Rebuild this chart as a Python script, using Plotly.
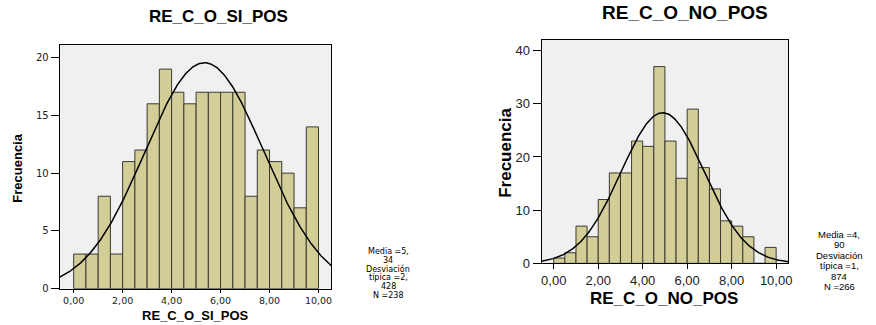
import numpy as np
import plotly.graph_objects as go

# ---------------- data ----------------
bin_start = [0.0, 0.5, 1.0, 1.5, 2.0, 2.5, 3.0, 3.5, 4.0, 4.5,
             5.0, 5.5, 6.0, 6.5, 7.0, 7.5, 8.0, 8.5, 9.0, 9.5]
bin_width = 0.5
counts_si = [3, 3, 8, 3, 11, 12, 16, 19, 17, 16,
             17, 17, 17, 17, 8, 12, 11, 10, 7, 14]
counts_no = [1, 2, 7, 5, 12, 17, 17, 23, 22, 37,
             23, 16, 29, 18, 14, 8, 7, 5, 0, 3]
mean_si, sd_si, n_si = 5.34, 2.428, 238
mean_no, sd_no, n_no = 4.90, 1.874, 266
x_tickvals = [0, 2, 4, 6, 8, 10]
x_ticktext = ["0,00", "2,00", "4,00", "6,00", "8,00", "10,00"]
y_ticks_si = [0, 5, 10, 15, 20]
y_ticks_no = [0, 10, 20, 30, 40]
stats_si = ["Media =5,", "34", "Desviación", "típica =2,", "428", "N =238"]
stats_no = ["Media =4,", "90", "Desviación", "típica =1,", "874", "N =266"]

FILL = "#D3CE97"
EDGE = "#3A3A32"
W, H = 876, 325


def px(x):
    return x / W


def py(y):
    return 1 - y / H


def normal_curve(mean, sd, n, lo, hi):
    xs = np.linspace(lo, hi, 300)
    ys = n * bin_width / (sd * np.sqrt(2 * np.pi)) * np.exp(-0.5 * ((xs - mean) / sd) ** 2)
    return xs, ys


centers = [b + bin_width / 2 for b in bin_start]

xr_si = [-0.57, 10.53]
xr_no = [-0.55, 10.55]

fig = go.Figure()
fig.add_trace(go.Bar(x=centers, y=counts_si, width=bin_width,
                     marker=dict(color=FILL, line=dict(color=EDGE, width=1)),
                     xaxis="x", yaxis="y"))
cx, cy = normal_curve(mean_si, sd_si, n_si, *xr_si)
fig.add_trace(go.Scatter(x=cx, y=cy, mode="lines", line=dict(color="black", width=1.5),
                         xaxis="x", yaxis="y"))
fig.add_trace(go.Bar(x=centers, y=counts_no, width=bin_width,
                     marker=dict(color=FILL, line=dict(color=EDGE, width=1)),
                     xaxis="x2", yaxis="y2"))
cx, cy = normal_curve(mean_no, sd_no, n_no, *xr_no)
fig.add_trace(go.Scatter(x=cx, y=cy, mode="lines", line=dict(color="black", width=1.5),
                         xaxis="x2", yaxis="y2"))

axis_common = dict(showline=True, mirror=True, linecolor="black", linewidth=1,
                   showgrid=False, zeroline=False, ticks="outside",
                   tickcolor="black", fixedrange=True)

fig.update_layout(
    width=W, height=H, margin=dict(l=0, r=0, t=0, b=0),
    paper_bgcolor="white", plot_bgcolor="#F0F0F0",
    showlegend=False, barmode="overlay",
    xaxis=dict(domain=[px(60), px(333)], range=xr_si, anchor="y",
               tickvals=x_tickvals, ticktext=x_ticktext, ticklen=3,
               tickfont=dict(family="DejaVu Sans", size=9.5, color="#222"), **axis_common),
    yaxis=dict(domain=[py(296), py(46)], range=[0, 21.1], anchor="x",
               tickvals=y_ticks_si, ticklen=8,
               tickfont=dict(family="DejaVu Sans", size=10, color="#222"), **axis_common),
    xaxis2=dict(domain=[px(544), px(792)], range=xr_no, anchor="y2",
                tickvals=x_tickvals, ticktext=x_ticktext, ticklen=5,
                tickfont=dict(family="Liberation Sans", size=13, color="#222"), **axis_common),
    yaxis2=dict(domain=[py(270), py(41)], range=[0, 42], anchor="x2",
                tickvals=y_ticks_no, ticklen=8,
                tickfont=dict(family="Liberation Sans", size=13, color="#222"), **axis_common),
)

ann = []


def add_text(text, x, y, family, size, angle=0):
    ann.append(dict(text=text, x=px(x), y=py(y), xref="paper", yref="paper",
                    xanchor="center", yanchor="middle", showarrow=False, textangle=angle,
                    borderpad=0,
                    font=dict(family=family, size=size, color="black")))


# titles
add_text("<b>RE_C_O_SI_POS</b>", 219, 17, "Liberation Sans", 17)
add_text("<b>RE_C_O_NO_POS</b>", 688, 13, "Liberation Sans", 19)
# x-axis titles
add_text("<b>RE_C_O_SI_POS</b>", 196, 323, "Liberation Sans", 13)
add_text("<b>RE_C_O_NO_POS</b>", 667, 306, "Liberation Sans", 17)
# y-axis titles
add_text("<b>Frecuencia</b>", 18, 172, "Liberation Sans Narrow, Liberation Sans", 13, -90)
add_text("<b>Frecuencia</b>", 507, 157, "Liberation Sans Narrow, Liberation Sans", 17, -90)
# stats boxes
ys_si = [258, 267, 276, 285, 294, 303]
for t, yy in zip(stats_si, ys_si):
    add_text(t, 390, yy, "DejaVu Sans", 8)
ys_no = [240, 250.8, 261.6, 272.4, 283.2, 294]
for t, yy in zip(stats_no, ys_no):
    add_text(t, 843, yy, "Liberation Sans", 9.5)

fig.update_layout(annotations=ann)
fig.write_html("out.html")
